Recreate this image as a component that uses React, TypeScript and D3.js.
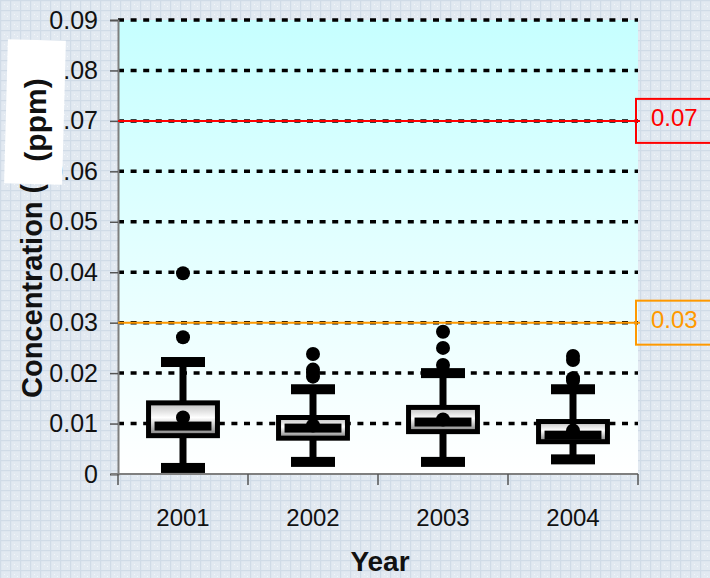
import { useEffect, useRef } from 'react';
import * as d3 from 'd3';

const years = ['2001', '2002', '2003', '2004'];
const mins = [0.0012, 0.0024, 0.0024, 0.0029];
const q1s = [0.0076, 0.0071, 0.0084, 0.0064];
const medians = [0.0095, 0.0091, 0.0103, 0.0077];
const q3s = [0.0141, 0.0112, 0.0132, 0.0104];
const maxs = [0.0222, 0.0168, 0.02, 0.0168];
const means = [0.0112, 0.0096, 0.0108, 0.0086];
const outliers = [
  [0.0398, 0.0271],
  [0.0238, 0.0207, 0.02, 0.0193],
  [0.0282, 0.025, 0.0216],
  [0.0234, 0.0226, 0.019, 0.0185],
];
const yTicks = [0, 0.01, 0.02, 0.03, 0.04, 0.05, 0.06, 0.07, 0.08, 0.09];
const limitValues = [0.07, 0.03];
const limitLabels = ['0.07', '0.03'];
const limitColors = ['#ff0000', '#ff9900'];

const W = 710;
const H = 578;
const FONT = '"Liberation Sans", Arial, sans-serif';

export default function App() {
  const svgRef = useRef<SVGSVGElement>(null);

  useEffect(() => {
    if (!svgRef.current) return;
    const svg = d3.select(svgRef.current);
    svg.selectAll('*').remove();

    const left = 118;
    const right = 638;
    const top = 20;
    const bottom = 474;

    const x = d3.scaleBand<string>().domain(years).range([left, right]).padding(0);
    const y = d3.scaleLinear().domain([0, 0.09]).range([bottom, top]);

    const defs = svg.append('defs');

    // page background: pale blue grid paper
    const pat = defs.append('pattern')
      .attr('id', 'paper')
      .attr('width', 10)
      .attr('height', 10)
      .attr('patternUnits', 'userSpaceOnUse');
    pat.append('rect').attr('width', 10).attr('height', 10).attr('fill', '#e2e9f1');
    pat.append('rect').attr('width', 10).attr('height', 1.2).attr('fill', '#d0dbe7');
    pat.append('rect').attr('width', 1.2).attr('height', 10).attr('fill', '#d0dbe7');
    pat.append('rect').attr('x', 4).attr('y', 4).attr('width', 1).attr('height', 1).attr('fill', '#f4f7fa');
    pat.append('rect').attr('x', 7).attr('y', 6).attr('width', 1).attr('height', 1).attr('fill', '#f4f7fa');

    const plotGrad = defs.append('linearGradient')
      .attr('id', 'plotGrad')
      .attr('x1', 0).attr('y1', 0).attr('x2', 0).attr('y2', 1);
    plotGrad.append('stop').attr('offset', '0%').attr('stop-color', '#c6ffff');
    plotGrad.append('stop').attr('offset', '100%').attr('stop-color', '#ffffff');

    const boxGrad = defs.append('linearGradient')
      .attr('id', 'boxGrad')
      .attr('x1', 0).attr('y1', 0).attr('x2', 0).attr('y2', 1);
    boxGrad.append('stop').attr('offset', '0%').attr('stop-color', '#bdbdbd');
    boxGrad.append('stop').attr('offset', '45%').attr('stop-color', '#ffffff');
    boxGrad.append('stop').attr('offset', '100%').attr('stop-color', '#7a7a7a');

    svg.append('rect').attr('width', W).attr('height', H).attr('fill', 'url(#paper)');

    svg.append('rect')
      .attr('x', left)
      .attr('y', top)
      .attr('width', right - left)
      .attr('height', bottom - top)
      .attr('fill', 'url(#plotGrad)');

    // dotted gridlines
    svg.append('g')
      .selectAll('line')
      .data(yTicks.filter(d => d > 0))
      .join('line')
      .attr('x1', left)
      .attr('x2', right)
      .attr('y1', d => y(d))
      .attr('y2', d => y(d))
      .attr('stroke', '#000')
      .attr('stroke-width', 3.5)
      .attr('stroke-dasharray', '6,6.6');

    // y axis
    const yAxis = svg.append('g')
      .attr('transform', `translate(${left},0)`)
      .call(
        d3.axisLeft(y)
          .tickValues(yTicks)
          .tickFormat(d => (+d === 0 ? '0' : (+d).toFixed(2)))
          .tickSize(8)
          .tickPadding(12)
      );
    yAxis.select('.domain').attr('stroke', '#7f7f7f').attr('stroke-width', 2);
    yAxis.selectAll('.tick line').attr('stroke', '#555').attr('stroke-width', 1.5);
    yAxis.selectAll('.tick text')
      .attr('font-family', FONT)
      .attr('font-size', 25)
      .attr('fill', '#111');

    // x axis: labels at centres, ticks on band edges
    const xAxis = svg.append('g')
      .attr('transform', `translate(0,${bottom})`)
      .call(d3.axisBottom(x).tickSize(0).tickPadding(35));
    xAxis.select('.domain').remove();
    xAxis.selectAll('.tick text')
      .attr('font-family', FONT)
      .attr('font-size', 24)
      .attr('fill', '#111');

    svg.append('line')
      .attr('x1', 111).attr('x2', right)
      .attr('y1', bottom).attr('y2', bottom)
      .attr('stroke', '#7f7f7f').attr('stroke-width', 2);
    const edges = years.map(d => x(d) as number).concat([right]);
    svg.append('g')
      .selectAll('line')
      .data(edges)
      .join('line')
      .attr('x1', d => d).attr('x2', d => d)
      .attr('y1', bottom).attr('y2', bottom + 11)
      .attr('stroke', '#555').attr('stroke-width', 1.5);

    // limit lines with boxed labels
    limitValues.forEach((v, i) => {
      svg.append('line')
        .attr('x1', left).attr('x2', right + 2)
        .attr('y1', y(v)).attr('y2', y(v))
        .attr('stroke', limitColors[i])
        .attr('stroke-width', 2);
      svg.append('rect')
        .attr('x', 636)
        .attr('y', y(v) - 22)
        .attr('width', 90)
        .attr('height', 44)
        .attr('fill', 'none')
        .attr('stroke', limitColors[i])
        .attr('stroke-width', 2);
      svg.append('text')
        .attr('x', 651)
        .attr('y', y(v) + 5)
        .attr('font-family', FONT)
        .attr('font-size', 24)
        .attr('fill', limitColors[i])
        .text(limitLabels[i]);
    });

    // box plots
    const bw = x.bandwidth();
    const boxW = bw * 0.53;
    const capW = 44;
    const g = svg.append('g');
    years.forEach((yr, i) => {
      const cx = (x(yr) as number) + bw / 2;

      g.append('line')
        .attr('x1', cx).attr('x2', cx)
        .attr('y1', y(mins[i])).attr('y2', y(maxs[i]))
        .attr('stroke', '#000').attr('stroke-width', 7);

      [mins[i], maxs[i]].forEach(v => {
        g.append('rect')
          .attr('x', cx - capW / 2)
          .attr('y', y(v) - 5)
          .attr('width', capW)
          .attr('height', 10)
          .attr('fill', '#000');
      });

      g.append('rect')
        .attr('x', cx - boxW / 2)
        .attr('y', y(q3s[i]))
        .attr('width', boxW)
        .attr('height', y(q1s[i]) - y(q3s[i]))
        .attr('fill', 'url(#boxGrad)')
        .attr('stroke', '#000')
        .attr('stroke-width', 5);

      g.append('circle')
        .attr('cx', cx).attr('cy', y(means[i])).attr('r', 7)
        .attr('fill', '#000');

      g.append('rect')
        .attr('x', cx - boxW / 2 + 6)
        .attr('y', y(medians[i]) - 4.5)
        .attr('width', boxW - 12)
        .attr('height', 9)
        .attr('fill', '#000');

      g.selectAll(null)
        .data(outliers[i])
        .join('circle')
        .attr('cx', cx)
        .attr('cy', d => y(d))
        .attr('r', 7)
        .attr('fill', '#000');
    });

    // axis titles
    svg.append('text')
      .attr('x', 380)
      .attr('y', 571)
      .attr('text-anchor', 'middle')
      .attr('font-family', FONT)
      .attr('font-size', 28)
      .attr('font-weight', 'bold')
      .attr('fill', '#111')
      .text('Year');

    svg.append('text')
      .attr('transform', 'translate(42,398) rotate(-90)')
      .attr('font-family', FONT)
      .attr('font-size', 29)
      .attr('font-weight', 'bold')
      .attr('fill', '#111')
      .text('Concentration (');

    // white patch over the title with the unit on it
    svg.append('rect')
      .attr('x', 6)
      .attr('y', 40)
      .attr('width', 58)
      .attr('height', 144)
      .attr('fill', '#fff')
      .attr('transform', 'rotate(1.5,35,112)');

    svg.append('text')
      .attr('transform', 'translate(46,120) rotate(-90)')
      .attr('text-anchor', 'middle')
      .attr('font-family', FONT)
      .attr('font-size', 30)
      .attr('font-weight', 'bold')
      .attr('fill', '#111')
      .text('(ppm)');
  }, []);

  return (
    <svg
      ref={svgRef}
      width={W}
      height={H}
      style={{ position: 'absolute', left: 0, top: 0, display: 'block' }}
    />
  );
}
